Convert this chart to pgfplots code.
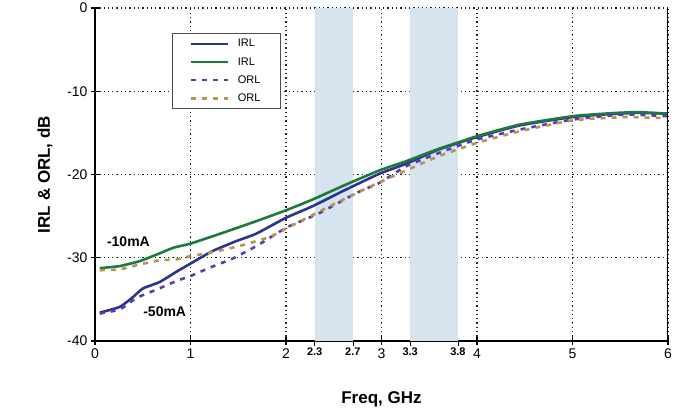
\documentclass[border=0pt]{standalone}
\usepackage{pgfplots}
\pgfplotsset{compat=1.18}
\usepackage{fontspec}
\setmainfont{Liberation Sans}
\definecolor{irlA}{HTML}{2B3590}
\definecolor{irlB}{HTML}{1B7A3C}
\definecolor{orlA}{HTML}{5A3EA8}
\definecolor{orlB}{HTML}{B29455}
\definecolor{band}{HTML}{D5E4EF}
\begin{document}
\begin{tikzpicture}
\useasboundingbox (-95pt,-78pt) rectangle (586pt,341pt);
\begin{axis}[
  at={(0pt,0pt)}, anchor=south west,
  scale only axis,
  width=573pt, height=333pt,
  xmin=0, xmax=6, ymin=-40, ymax=0,
  axis x line*=bottom, axis y line*=left,
  axis line style={line width=1.2pt, -},
  xtick={0,1,...,6}, ytick={-40,-30,...,0},
  tick align=center, major tick length=8pt,
  tick style={line width=1.2pt, black},
  /pgf/number format/assume math mode=true,
  tick label style={font=\fontsize{14}{16}\selectfont},
  extra x ticks={2.3,2.7,3.3,3.8},
  extra x tick style={major grid style={draw=none}, tick align=outside, major tick length=5pt,
    tick style={line width=0.6pt},
    tick label style={font=\bfseries\fontsize{11}{12}\selectfont, yshift=2pt},
    xticklabels={2.3,2.7,3.3,3.8}},
  xmajorgrids=true, ymajorgrids=true,
  major grid style={black!85, line width=1.3pt, dash pattern=on 1.3pt off 3pt},
  xlabel={\bfseries Freq, GHz},
  ylabel={\bfseries IRL \& ORL, dB},
  label style={font=\bfseries\fontsize{17}{19}\selectfont},
  xlabel style={at={(axis description cs:0.5,-0.175)}, anchor=center},
  ylabel style={at={(axis description cs:-0.087,0.5)}, anchor=center},
  legend style={at={(axis description cs:0.134,0.925)}, anchor=north west,
    font=\fontsize{11}{12}\selectfont, draw=gray!60!black, line width=0.8pt,
    row sep=5pt, column sep=6pt, inner xsep=18pt, inner ysep=4pt},
  legend cell align=left,
  legend image code/.code={\draw[#1] (0pt,0pt) -- (37pt,0pt);},
]
\addplot[fill=band, draw=none, forget plot] coordinates {(2.3,-40) (2.3,0) (2.7,0) (2.7,-40)} -- cycle;
\addplot[fill=band, draw=none, forget plot] coordinates {(3.3,-40) (3.3,0) (3.8,0) (3.8,-40)} -- cycle;

\addplot[irlA, line width=2.6pt, smooth, tension=0.3] coordinates {
(0.05,-36.6) (0.26,-35.9) (0.40,-34.7) (0.50,-33.7) (0.68,-32.9) (0.85,-31.7)
(1.00,-30.7) (1.23,-29.2) (1.48,-28.0) (1.69,-27.1) (2.00,-25.2) (2.28,-23.8)
(2.63,-21.8) (2.98,-19.9) (3.26,-18.7) (3.60,-17.0) (4.00,-15.5) (4.45,-14.1)
(5.00,-13.1) (5.32,-12.8) (5.67,-12.6) (6.00,-12.7)};
\addlegendentry{IRL}
\addplot[irlB, line width=2.6pt, smooth, tension=0.3] coordinates {
(0.05,-31.25) (0.26,-31.0) (0.47,-30.4) (0.65,-29.6) (0.82,-28.8) (1.00,-28.3)
(1.34,-27.0) (1.69,-25.6) (2.00,-24.3) (2.28,-23.0) (2.63,-21.2) (2.98,-19.5)
(3.26,-18.4) (3.58,-17.0) (4.00,-15.4) (4.45,-14.0) (5.00,-13.0) (5.32,-12.7)
(5.67,-12.5) (6.00,-12.7)};
\addlegendentry{IRL}
\addplot[orlA, line width=2.6pt, dash pattern=on 5pt off 6pt, smooth, tension=0.3] coordinates {
(0.05,-36.7) (0.26,-36.2) (0.44,-34.8) (0.65,-33.8) (0.85,-32.8) (1.00,-32.2)
(1.20,-31.2) (1.44,-30.1) (1.69,-28.6) (2.00,-26.4) (2.20,-25.4) (2.39,-24.4)
(2.74,-22.2) (2.98,-21.0) (3.26,-19.0) (3.65,-17.2) (4.00,-15.8) (4.45,-14.6)
(5.00,-13.4) (5.55,-12.8) (6.00,-13.0)};
\addlegendentry{ORL}
\addplot[orlB, line width=2.6pt, dash pattern=on 5pt off 6pt, smooth, tension=0.3] coordinates {
(0.05,-31.5) (0.26,-31.4) (0.47,-30.8) (0.68,-30.3) (0.85,-30.2) (1.00,-29.8)
(1.20,-29.4) (1.51,-28.6) (1.83,-27.5) (2.00,-26.5) (2.53,-23.4) (2.91,-21.3)
(3.26,-19.5) (3.60,-17.8) (4.00,-16.2) (4.45,-14.8) (5.00,-13.5) (5.55,-13.1)
(5.85,-13.2) (6.00,-13.2)};
\addlegendentry{ORL}

\node[font=\bfseries\fontsize{14}{16}\selectfont] at (axis cs:0.35,-28.1) {-10mA};
\node[font=\bfseries\fontsize{14}{16}\selectfont] at (axis cs:0.73,-36.5) {-50mA};
\draw[line width=1.2pt] (axis description cs:1,0) -- (axis description cs:1,1);
\end{axis}
\end{tikzpicture}
\end{document}
